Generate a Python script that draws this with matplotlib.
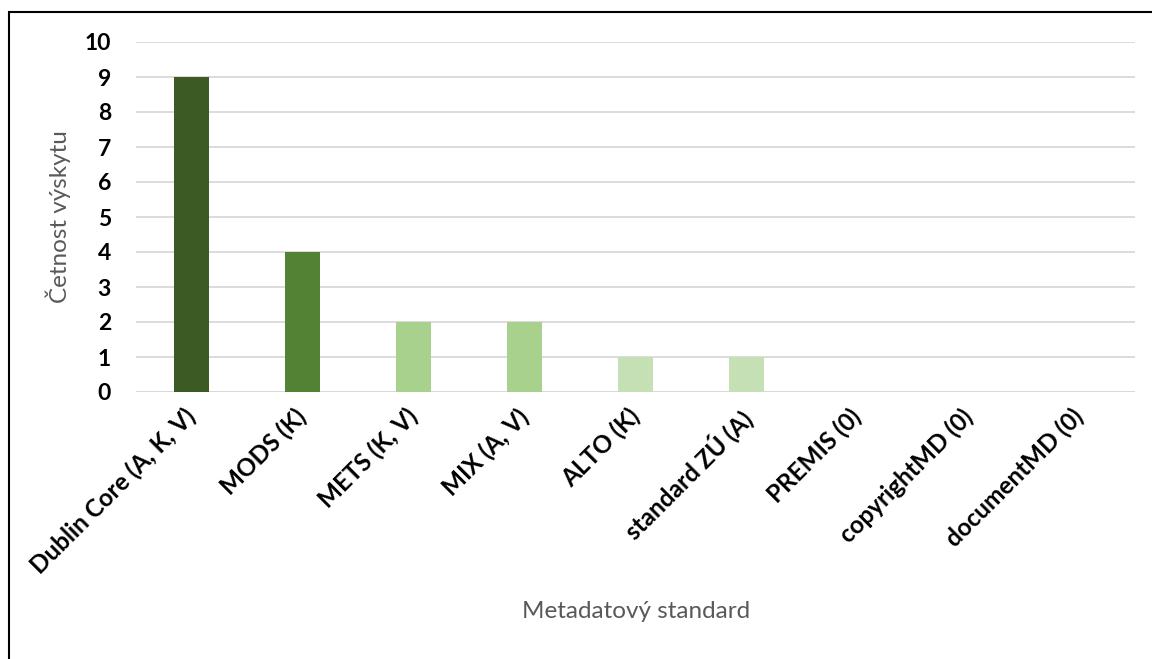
import matplotlib.pyplot as plt
from matplotlib.patches import Rectangle
from matplotlib.transforms import ScaledTranslation

standardy = ["Dublin Core (A, K, V)", "MODS (K)", "METS (K, V)", "MIX (A, V)",
             "ALTO (K)", "standard ZÚ (A)", "PREMIS (0)", "copyrightMD (0)",
             "documentMD (0)"]
cetnost = [9, 4, 2, 2, 1, 1, 0, 0, 0]
barvy = ["#3b5a24", "#548235", "#a9d18e", "#a9d18e", "#c5e0b4", "#c5e0b4",
         "#c5e0b4", "#c5e0b4", "#c5e0b4"]

plt.rcParams['font.family'] = ['Lato', 'DejaVu Sans']

fig = plt.figure(figsize=(11.52, 6.59), dpi=100)
ax = fig.add_axes([136 / 1152, 1 - 392 / 659, 999 / 1152, 350 / 659])

x = range(len(standardy))
ax.bar(x, cetnost, width=0.315, color=barvy, zorder=3)

ax.set_xlim(-0.5, len(standardy) - 0.5)
ax.set_ylim(0, 10)
ax.set_yticks(range(0, 11))
ax.yaxis.grid(True, color="#d9d9d9", linewidth=1.3, zorder=0)
ax.set_axisbelow(True)
for s in ax.spines.values():
    s.set_visible(False)
ax.axhline(0, color="#d9d9d9", linewidth=1.3, zorder=1)
ax.tick_params(axis='y', length=0, labelsize=16.5, pad=18)
ax.tick_params(axis='x', length=0, labelsize=17.5, pad=4)

ax.set_xticks(list(x))
ax.set_xticklabels(standardy, rotation=45, ha='right', va='top',
                   rotation_mode='anchor', fontweight='bold')
# push the slanted labels a bit down and to the left
posun = ScaledTranslation(-0.08, -0.07, fig.dpi_scale_trans)
for lbl in ax.get_xticklabels():
    lbl.set_transform(lbl.get_transform() + posun)
for lbl in ax.get_yticklabels():
    lbl.set_fontweight('bold')

ax.set_ylabel("Četnost výskytu", color="#595959", fontsize=17.5, labelpad=10)
fig.text(636 / 1152, 1 - 612 / 659, "Metadatový standard", color="#595959",
         fontsize=17.5, ha='center', va='center')

# outer frame of the chart area
fig.patches.append(Rectangle((9 / 1152, -0.05), 1.2, 1 - 12 / 659 + 0.05,
                             transform=fig.transFigure, fill=False,
                             edgecolor="black", linewidth=1.5))

fig.savefig("out.png", dpi=100)
